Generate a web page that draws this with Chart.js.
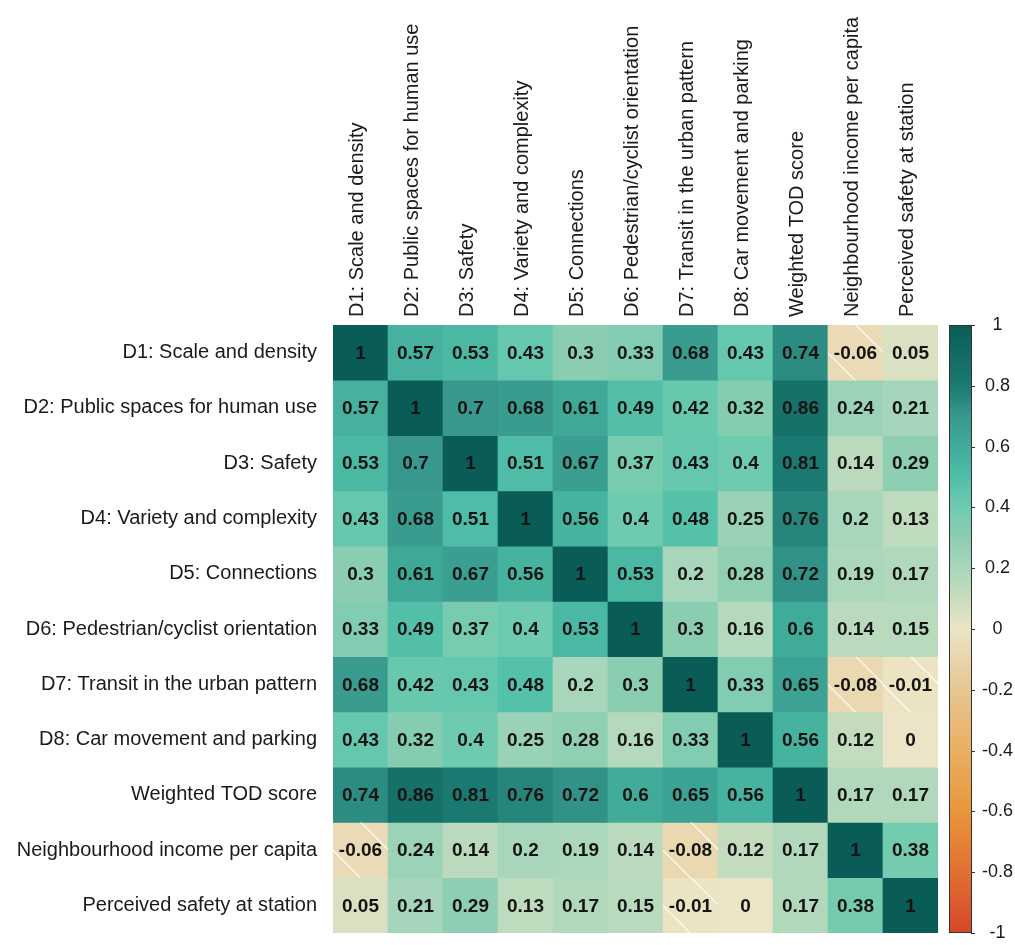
<!DOCTYPE html>
<html>
<head>
<meta charset="utf-8">
<script src="https://cdn.jsdelivr.net/npm/chart.js@4"></script>
<style>
  html, body { margin: 0; padding: 0; background: #fff; }
  #wrap { width: 1015px; height: 945px; }
</style>
</head>
<body>
<div id="wrap"><canvas id="corr" width="1015" height="945"></canvas></div>
<script>
// variables (same order on rows and columns)
let variables = [
  "D1: Scale and density",
  "D2: Public spaces for human use",
  "D3: Safety",
  "D4: Variety and complexity",
  "D5: Connections",
  "D6: Pedestrian/cyclist orientation",
  "D7: Transit in the urban pattern",
  "D8: Car movement and parking",
  "Weighted TOD score",
  "Neighbourhood income per capita",
  "Perceived safety at station"
]

// correlation values, one row per variable
let rowD1 = [1, 0.57, 0.53, 0.43, 0.3, 0.33, 0.68, 0.43, 0.74, -0.06, 0.05]
let rowD2 = [0.57, 1, 0.7, 0.68, 0.61, 0.49, 0.42, 0.32, 0.86, 0.24, 0.21]
let rowD3 = [0.53, 0.7, 1, 0.51, 0.67, 0.37, 0.43, 0.4, 0.81, 0.14, 0.29]
let rowD4 = [0.43, 0.68, 0.51, 1, 0.56, 0.4, 0.48, 0.25, 0.76, 0.2, 0.13]
let rowD5 = [0.3, 0.61, 0.67, 0.56, 1, 0.53, 0.2, 0.28, 0.72, 0.19, 0.17]
let rowD6 = [0.33, 0.49, 0.37, 0.4, 0.53, 1, 0.3, 0.16, 0.6, 0.14, 0.15]
let rowD7 = [0.68, 0.42, 0.43, 0.48, 0.2, 0.3, 1, 0.33, 0.65, -0.08, -0.01]
let rowD8 = [0.43, 0.32, 0.4, 0.25, 0.28, 0.16, 0.33, 1, 0.56, 0.12, 0]
let rowTOD = [0.74, 0.86, 0.81, 0.76, 0.72, 0.6, 0.65, 0.56, 1, 0.17, 0.17]
let rowIncome = [-0.06, 0.24, 0.14, 0.2, 0.19, 0.14, -0.08, 0.12, 0.17, 1, 0.38]
let rowSafetyStation = [0.05, 0.21, 0.29, 0.13, 0.17, 0.15, -0.01, 0, 0.17, 0.38, 1]

let filas = [rowD1, rowD2, rowD3, rowD4, rowD5, rowD6, rowD7, rowD8, rowTOD, rowIncome, rowSafetyStation]

// colour bar ticks
let escalaTicks = [1, 0.8, 0.6, 0.4, 0.2, 0, -0.2, -0.4, -0.6, -0.8, -1]

// colour ramp (teal -> beige -> orange/red)
let paradas = [
  [1, [10, 92, 87]],
  [0.8, [27, 122, 113]],
  [0.7, [56, 152, 141]],
  [0.6, [64, 171, 153]],
  [0.5, [80, 190, 168]],
  [0.4, [110, 203, 176]],
  [0.3, [139, 205, 177]],
  [0.2, [168, 214, 187]],
  [0.1, [200, 221, 190]],
  [0, [236, 228, 198]],
  [-0.2, [230, 198, 145]],
  [-0.4, [233, 175, 98]],
  [-0.6, [232, 150, 60]],
  [-0.8, [224, 112, 50]],
  [-1, [214, 70, 40]]
]

function colorDe(v) {
  for (var i = 0; i < paradas.length - 1; i++) {
    let a = paradas[i], b = paradas[i + 1]
    if (v <= a[0] && v >= b[0]) {
      let t = (a[0] - v) / (a[0] - b[0])
      let c = a[1].map((x, k) => Math.round(x + (b[1][k] - x) * t))
      return "rgb(" + c.join(",") + ")"
    }
  }
  return v > 0 ? "rgb(10,92,87)" : "rgb(214,70,40)"
}

const fuente = '"Liberation Sans", Arial, sans-serif'

// one dataset per row, each cell is a floating bar [r, r+1]
let datasets = filas.map((fila, r) => ({
  label: variables[r],
  data: fila.map(() => [r, r + 1]),
  valores: fila,
  backgroundColor: fila.map(v => colorDe(v)),
  borderWidth: 0,
  grouped: false,
  barPercentage: 1,
  categoryPercentage: 1,
  yAxisID: "y"
}))

// numbers, hatching on negative cells and the colour bar
const celdasPlugin = {
  id: "celdas",
  afterDatasetsDraw(chart) {
    const ctx = chart.ctx
    chart.data.datasets.forEach((ds, d) => {
      const meta = chart.getDatasetMeta(d)
      meta.data.forEach((bar, i) => {
        const v = ds.valores[i]
        const L = bar.x - bar.width / 2
        const T = Math.min(bar.y, bar.base)
        const W = bar.width
        const H = Math.abs(bar.base - bar.y)
        if (v < 0) {
          ctx.save()
          ctx.beginPath()
          ctx.rect(L, T, W, H)
          ctx.clip()
          ctx.strokeStyle = "rgba(255,255,255,0.9)"
          ctx.lineWidth = 1.2
          ;[28, -28].forEach(c => {
            ctx.beginPath()
            ctx.moveTo(L + c - 5, T - 5)
            ctx.lineTo(L + c + W + 10, T + W + 10)
            ctx.stroke()
          })
          ctx.restore()
        }
        ctx.save()
        ctx.fillStyle = "#141414"
        ctx.font = "bold 19px " + fuente
        ctx.textAlign = "center"
        ctx.textBaseline = "middle"
        ctx.fillText(String(v), bar.x, T + H / 2 + 1)
        ctx.restore()
      })
    })

    // colour bar beside the plot, positioned with the cb scale
    const cb = chart.scales.cb
    const x0 = chart.chartArea.right + 11
    const ancho = 23
    const yTop = cb.getPixelForValue(1)
    const yBot = cb.getPixelForValue(-1)
    const grad = ctx.createLinearGradient(0, yTop, 0, yBot)
    paradas.forEach(p => {
      grad.addColorStop((1 - p[0]) / 2, colorDe(p[0]))
    })
    ctx.save()
    ctx.fillStyle = grad
    ctx.fillRect(x0, yTop, ancho, yBot - yTop)
    ctx.strokeStyle = "#333"
    ctx.lineWidth = 1
    ctx.strokeRect(x0 + 0.5, yTop + 0.5, ancho - 1, yBot - yTop - 1)
    escalaTicks.forEach(t => {
      const y = Math.round(cb.getPixelForValue(t)) + 0.5
      ctx.beginPath()
      ctx.moveTo(x0 + ancho - 1, y)
      ctx.lineTo(x0 + ancho + 3, y)
      ctx.stroke()
    })
    ctx.restore()
  }
}

var ctx = document.getElementById("corr").getContext("2d")
var grafico = new Chart(ctx, {
  type: "bar",
  data: {
    labels: variables,
    datasets: datasets
  },
  options: {
    responsive: false,
    animation: false,
    events: [],
    layout: { padding: { top: 0, left: 0, right: 0, bottom: 12 } },
    plugins: {
      legend: { display: false },
      tooltip: { enabled: false }
    },
    scales: {
      x: {
        type: "category",
        position: "top",
        grid: { display: false },
        border: { display: false },
        ticks: {
          autoSkip: false,
          minRotation: 90,
          maxRotation: 90,
          padding: 0,
          labelOffset: 21,
          color: "#1a1a1a",
          font: { family: fuente, size: 20 }
        },
        afterFit: s => { s.height = 325 }
      },
      y: {
        type: "linear",
        position: "left",
        min: 0,
        max: 11,
        reverse: true,
        // tick marks are invisible, only used to push labels away from the cells
        grid: { display: true, drawOnChartArea: false, drawTicks: true, tickLength: 16, color: "rgba(0,0,0,0)" },
        border: { display: false },
        afterBuildTicks: s => {
          s.ticks = variables.map((v, i) => ({ value: i + 0.5 }))
        },
        ticks: {
          autoSkip: false,
          padding: 0,
          color: "#1a1a1a",
          font: { family: fuente, size: 20 },
          callback: v => variables[Math.floor(v)]
        },
        afterFit: s => { s.width = 333 }
      },
      cb: {
        type: "linear",
        position: "right",
        min: -1,
        max: 1,
        grid: { display: true, drawOnChartArea: false, drawTicks: true, tickLength: 44, color: "rgba(0,0,0,0)" },
        border: { display: false },
        afterBuildTicks: s => {
          s.ticks = escalaTicks.map(t => ({ value: t }))
        },
        ticks: {
          autoSkip: false,
          padding: 0,
          crossAlign: "center",
          color: "#1a1a1a",
          font: { family: fuente, size: 18 },
          callback: v => String(Math.round(v * 10) / 10)
        },
        afterFit: s => { s.width = 77 }
      }
    }
  },
  plugins: [celdasPlugin]
})
</script>
</body>
</html>
